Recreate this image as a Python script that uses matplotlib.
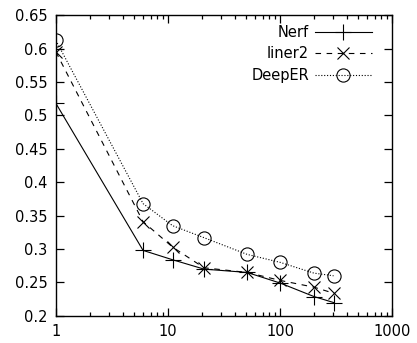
import matplotlib
matplotlib.use("Agg")
import matplotlib.pyplot as plt
from matplotlib.ticker import FixedLocator, FixedFormatter, LogLocator, NullFormatter

x = [1, 6, 11, 21, 51, 101, 201, 301]
nerf = [0.518, 0.298, 0.284, 0.270, 0.265, 0.249, 0.229, 0.220]
liner2 = [0.595, 0.341, 0.303, 0.272, 0.265, 0.253, 0.243, 0.234]
deeper = [0.612, 0.368, 0.335, 0.317, 0.292, 0.280, 0.264, 0.260]

xticks = [1, 10, 100, 1000]
xticklabels = ["1", "10", "100", "1000"]
yticks = [0.2, 0.25, 0.3, 0.35, 0.4, 0.45, 0.5, 0.55, 0.6, 0.65]
yticklabels = ["0.2", "0.25", "0.3", "0.35", "0.4", "0.45", "0.5", "0.55", "0.6", "0.65"]

fig = plt.figure(figsize=(4.17, 3.43), dpi=100)
ax = fig.add_axes([0.134, 0.079, 0.806, 0.877])

ax.plot(x, nerf, color="black", lw=0.8, ls="-", marker="+", ms=11, mew=0.8, label="Nerf")
ax.plot(x, liner2, color="black", lw=0.8, ls=(0, (5, 5)), marker="x", ms=9, mew=0.8, label="liner2")
ax.plot(x, deeper, color="black", lw=0.8, ls=(0, (1, 1.6)), marker="o", ms=9.5, mew=0.8,
        mfc="none", label="DeepER")

ax.set_xscale("log")
ax.set_xlim(1, 1000)
ax.set_ylim(0.2, 0.65)
ax.xaxis.set_major_locator(FixedLocator(xticks))
ax.xaxis.set_major_formatter(FixedFormatter(xticklabels))
ax.xaxis.set_minor_locator(LogLocator(base=10, subs=range(2, 10)))
ax.xaxis.set_minor_formatter(NullFormatter())
ax.yaxis.set_major_locator(FixedLocator(yticks))
ax.yaxis.set_major_formatter(FixedFormatter(yticklabels))

ax.tick_params(which="both", direction="in", top=True, right=True, labelsize=10.5)
ax.tick_params(which="major", length=6, width=0.9, pad=6)
ax.tick_params(which="minor", length=3, width=0.9)
for s in ax.spines.values():
    s.set_linewidth(1.0)

ax.legend(loc="upper right", bbox_to_anchor=(0.94, 0.968), frameon=False,
          markerfirst=False, fontsize=10.5, handlelength=3.9, handletextpad=0.4,
          labelspacing=0.45, borderpad=0, borderaxespad=0)

fig.savefig("out.png", dpi=100)
